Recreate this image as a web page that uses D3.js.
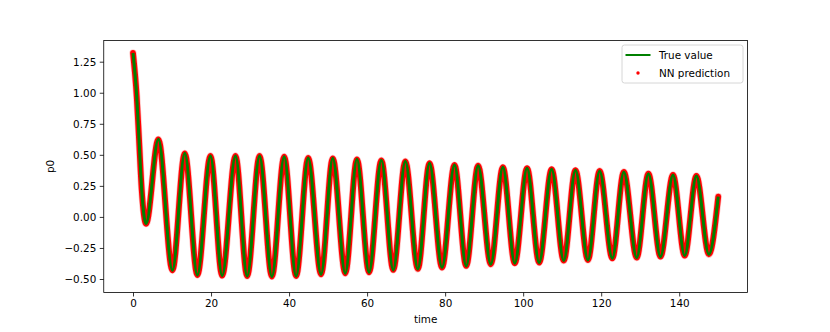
<!DOCTYPE html>
<html><head><meta charset="utf-8">
<script src="https://cdn.jsdelivr.net/npm/d3@7"></script>
<style>
html,body{margin:0;padding:0;background:#fff;}
svg{display:block;font-family:"DejaVu Sans",sans-serif;}
</style></head>
<body>
<div id="chart"></div>
<script>
// Values (extrema and a few shape points of the damped oscillation)
const trueTime = [0, 0.95, 1.55, 2.23, 3.34, 6.5, 10.1, 13.27, 16.5, 19.85, 22.85, 26.27, 29.26, 32.43, 35.6, 38.75, 41.8, 44.9, 48.2, 51.2, 54.4, 57.4, 60.5, 63.65, 66.7, 69.8, 73.0, 76.0, 79.2, 82.4, 85.4, 88.45, 91.7, 94.8, 97.85, 101.0, 104.1, 107.3, 110.4, 113.4, 116.6, 119.6, 122.85, 125.8, 129.1, 132.1, 135.2, 138.4, 141.4, 144.4, 147.6, 150];
const trueValue = [1.32, 0.97, 0.62, 0.22, -0.055, 0.625, -0.43, 0.512, -0.468, 0.491, -0.473, 0.491, -0.476, 0.491, -0.48, 0.485, -0.476, 0.475, -0.462, 0.472, -0.454, 0.464, -0.446, 0.456, -0.427, 0.448, -0.419, 0.432, -0.408, 0.418, -0.395, 0.413, -0.381, 0.40, -0.373, 0.392, -0.368, 0.384, -0.352, 0.376, -0.347, 0.37, -0.333, 0.362, -0.328, 0.348, -0.32, 0.338, -0.312, 0.33, -0.301, 0.163];
// NN prediction overlaps the true curve in the picture
const predTime = trueTime.slice();
const predValue = trueValue.slice();

const xTicks = [0, 20, 40, 60, 80, 100, 120, 140];
const yTicks = [-0.5, -0.25, 0, 0.25, 0.5, 0.75, 1.0, 1.25];
const seriesNames = ["True value", "NN prediction"];
const xLabel = "time", yLabel = "p0";

const W = 830, H = 332;
const L = 103.75, R = 747.5, T = 40.5, B = 292.5;

const svg = d3.select("#chart").append("svg").attr("width", W).attr("height", H);

const x = d3.scaleLinear().domain([-7.5, 157.5]).range([L, R]);
const y = d3.scaleLinear().domain([-0.6087, 1.4207]).range([B, T]);

svg.append("clipPath").attr("id", "clip").append("rect")
  .attr("x", L).attr("y", T).attr("width", R - L).attr("height", B - T);

const g = svg.append("g").attr("clip-path", "url(#clip)");

const line = d3.line().curve(d3.curveMonotoneX).x(d => x(d[0])).y(d => y(d[1]));
const predData = predTime.map((t, i) => [t, predValue[i]]);
const trueData = trueTime.map((t, i) => [t, trueValue[i]]);

// prediction: dense red dots rendered as a round-capped red band
g.append("path").datum(predData).attr("d", line)
  .attr("fill", "none").attr("stroke", "#ff3030").attr("stroke-width", 7.2)
  .attr("stroke-opacity", 0.3).attr("stroke-linecap", "round").attr("stroke-linejoin", "round");
g.append("path").datum(predData).attr("d", line)
  .attr("fill", "none").attr("stroke", "#ff0000").attr("stroke-width", 5.8)
  .attr("stroke-linecap", "round").attr("stroke-linejoin", "round");
g.append("path").datum(trueData).attr("d", line)
  .attr("fill", "none").attr("stroke", "#008000").attr("stroke-width", 3)
  .attr("stroke-linejoin", "round");

// axes
const fs = 10.4;
const xAxis = d3.axisBottom(x).tickValues(xTicks).tickFormat(d3.format("d")).tickSizeInner(4).tickSizeOuter(0).tickPadding(3.5);
const yAxis = d3.axisLeft(y).tickValues(yTicks).tickFormat(d => d3.format(".2f")(d).replace("-", "\u2212")).tickSizeInner(4).tickSizeOuter(0).tickPadding(3.5);

const gx = svg.append("g").attr("transform", `translate(0,${B})`).call(xAxis);
const gy = svg.append("g").attr("transform", `translate(${L},0)`).call(yAxis);
[gx, gy].forEach(a => {
  a.select(".domain").remove();
  a.selectAll("line").attr("stroke", "#000").attr("stroke-width", 0.8);
  a.selectAll("text").attr("font-size", fs).attr("fill", "#000").attr("font-family", "DejaVu Sans");
});

// frame
svg.append("rect").attr("x", L).attr("y", T).attr("width", R - L).attr("height", B - T)
  .attr("fill", "none").attr("stroke", "#000").attr("stroke-width", 0.8);

// labels
svg.append("text").attr("x", (L + R) / 2).attr("y", 323).attr("text-anchor", "middle")
  .attr("font-size", fs).text(xLabel);
svg.append("text").attr("transform", `translate(54,${(T + B) / 2}) rotate(-90)`)
  .attr("text-anchor", "middle").attr("font-size", fs).text(yLabel);

// legend
const lg = svg.append("g");
lg.append("rect").attr("x", 622).attr("y", 45).attr("width", 121).attr("height", 38).attr("rx", 2.5)
  .attr("fill", "#fff").attr("fill-opacity", 0.8).attr("stroke", "#cccccc").attr("stroke-width", 0.8);
lg.append("line").attr("x1", 625.5).attr("x2", 650.5).attr("y1", 55).attr("y2", 55)
  .attr("stroke", "#008000").attr("stroke-width", 2);
lg.append("circle").attr("cx", 638).attr("cy", 73).attr("r", 1.7).attr("fill", "#ff0000");
lg.selectAll("text.lt").data(seriesNames).enter().append("text")
  .attr("x", 659).attr("y", (d, i) => 58.8 + i * 18).attr("font-size", fs).attr("fill", "#000").text(d => d);
</script>
</body></html>
